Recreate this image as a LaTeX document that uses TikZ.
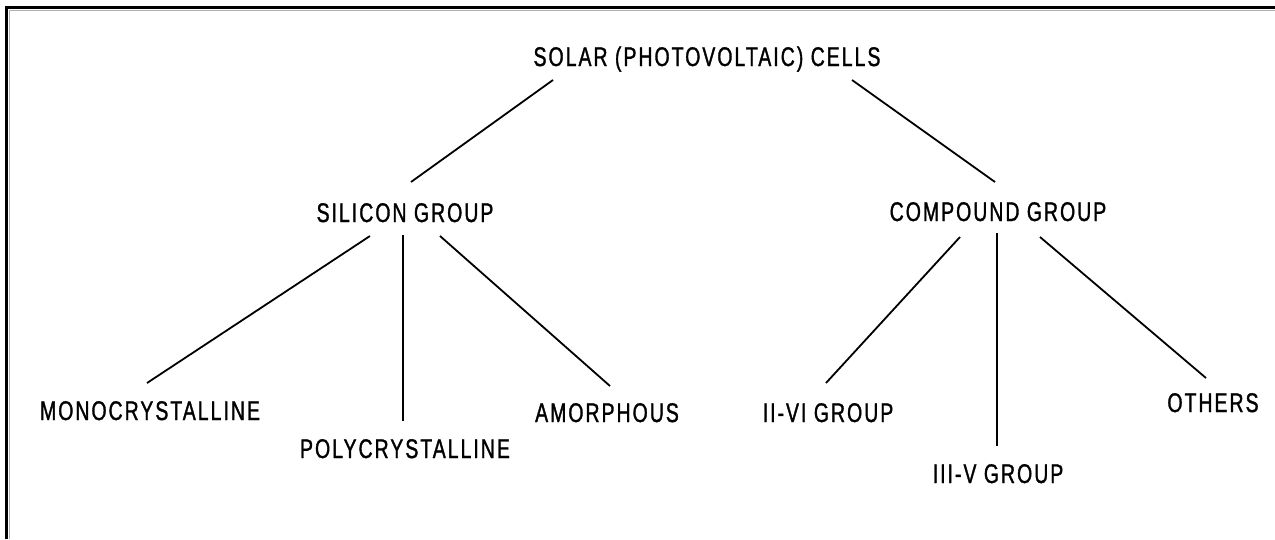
\documentclass[tikz,border=0pt]{standalone}
\usepackage{fontspec}
\setmainfont{Liberation Sans}[FakeStretch=0.72,LetterSpace=7.5,FakeBold=1.2]
\begin{document}
\begin{tikzpicture}[x=1pt,y=-1pt,
  lbl/.style={anchor=base,inner sep=0pt,font=\fontsize{27}{27}\selectfont},
  conn/.style={line width=1.8pt,black}]
\useasboundingbox (0,0) rectangle (1275,539);
\fill[white] (0,0) rectangle (1275,539);
% frame
\draw[gray!60,line width=1pt] (9,539) -- (9,10) -- (1275,10);
\draw[black,line width=3.2pt] (6.5,539) -- (6.5,7.5) -- (1275,7.5);
% nodes
\node[lbl] (solar) at (707,66) {SOLAR (PHOTOVOLTAIC) CELLS};
\node[lbl] (silicon) at (405,222) {SILICON GROUP};
\node[lbl] (compound) at (998,221) {COMPOUND GROUP};
\node[lbl] (mono) at (150,420) {MONOCRYSTALLINE};
\node[lbl] (poly) at (405,458) {POLYCRYSTALLINE};
\node[lbl] (amorph) at (607,422) {AMORPHOUS};
\node[lbl] (twosix) at (828,422) {II-VI GROUP};
\node[lbl] (threefive) at (998,483) {III-V GROUP};
\node[lbl] (others) at (1213,412) {OTHERS};
% connector ends
\coordinate (sA) at (553,80);
\coordinate (sB) at (852,80);
\coordinate (siT) at (411,182);
\coordinate (coT) at (995,182);
\coordinate (si1) at (370,236);
\coordinate (si2) at (403,235);
\coordinate (si3) at (440,236);
\coordinate (co1) at (960,237);
\coordinate (co2) at (997,233);
\coordinate (co3) at (1040,237);
\coordinate (moT) at (147,383);
\coordinate (poT) at (403,421);
\coordinate (amT) at (610,386);
\coordinate (tsT) at (826,383);
\coordinate (tfT) at (997,446);
\coordinate (otT) at (1206,378);
% connectors
\draw[conn] (sA) -- (siT);
\draw[conn] (sB) -- (coT);
\draw[conn] (si1) -- (moT);
\draw[conn] (si2) -- (poT);
\draw[conn] (si3) -- (amT);
\draw[conn] (co1) -- (tsT);
\draw[conn] (co2) -- (tfT);
\draw[conn] (co3) -- (otT);
\end{tikzpicture}
\end{document}
